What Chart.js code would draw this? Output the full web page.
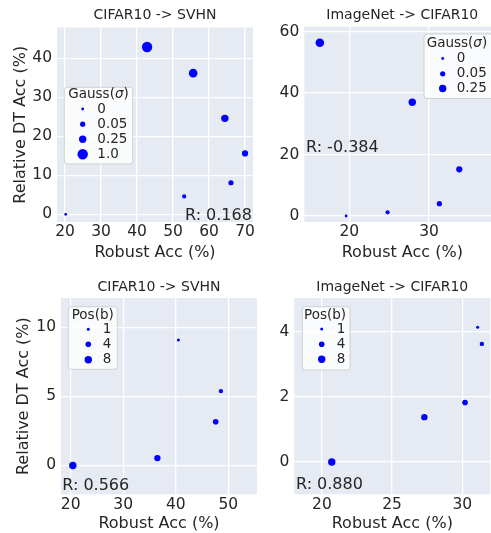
<!DOCTYPE html>
<html>
<head>
<meta charset="utf-8">
<script src="https://cdn.jsdelivr.net/npm/chart.js@4.4.1/dist/chart.umd.min.js"></script>
<style>
  html, body { margin: 0; padding: 0; background: #fff; }
  #wrap { position: relative; width: 491px; height: 533px; overflow: hidden; }
  #wrap canvas { position: absolute; left: 0; top: 0; }
</style>
</head>
<body>
<div id="wrap">
  <canvas id="c1" width="505" height="533"></canvas>
  <canvas id="c2" width="505" height="533"></canvas>
  <canvas id="c3" width="505" height="533"></canvas>
  <canvas id="c4" width="505" height="533"></canvas>
</div>
<script>
// ---- data ----
// Gauss(sigma), CIFAR10 -> SVHN
const gaussSvhnRobust = [20.2, 53.1, 66.1, 70.0, 64.4, 55.6, 42.8];
const gaussSvhnDT = [0.0, 4.6, 8.1, 15.6, 24.6, 36.2, 42.9];
const gaussSvhnSigma = [0, 0.01, 0.05, 0.1, 0.25, 0.5, 1.0];
const gaussSvhnXTicks = [20, 30, 40, 50, 60, 70];
const gaussSvhnYTicks = [0, 10, 20, 30, 40];
const gaussSvhnLegend = ["0", "0.05", "0.25", "1.0"];

// Gauss(sigma), ImageNet -> CIFAR10
const gaussCifarRobust = [19.6, 24.8, 31.3, 33.8, 27.9, 16.3];
const gaussCifarDT = [0.0, 1.2, 4.0, 15.2, 37.0, 56.4];
const gaussCifarSigma = [0, 0.01, 0.05, 0.1, 0.25, 0.5];
const gaussCifarXTicks = [20, 30];
const gaussCifarYTicks = [0, 20, 40, 60];
const gaussCifarLegend = ["0", "0.05", "0.25"];

// Pos(b), CIFAR10 -> SVHN
const posSvhnRobust = [40.5, 48.6, 47.6, 36.5, 20.4];
const posSvhnDT = [9.08, 5.38, 3.16, 0.53, 0.0];
const posSvhnB = [1, 2, 4, 6, 8];
const posSvhnXTicks = [20, 30, 40, 50];
const posSvhnYTicks = [0, 5, 10];

// Pos(b), ImageNet -> CIFAR10
const posCifarRobust = [31.1, 31.4, 30.2, 27.3, 20.7];
const posCifarDT = [4.14, 3.63, 1.83, 1.38, 0.0];
const posCifarB = [1, 2, 4, 6, 8];
const posCifarXTicks = [20, 25, 30];
const posCifarYTicks = [0, 2, 4];

const posLegend = ["1", "4", "8"];
const corr = ["R: 0.168", "R: -0.384", "R: 0.566", "R: 0.880"];

// ---- style ----
const FONT = "DejaVu Sans";
const TEXT = "#262626";
const BG = "#e5eaf3";
const W = 505, H = 533;
const sigmaRadius = { 0: 1.4, 0.01: 2.1, 0.05: 2.6, 0.1: 3.1, 0.25: 3.7, 0.5: 4.3, 1: 5.2 };
const posRadius = { 1: 1.5, 2: 2.2, 4: 2.8, 6: 3.2, 8: 3.7 };

const bgPlugin = {
  id: "bg",
  beforeDraw(chart) {
    const { ctx, chartArea: a } = chart;
    ctx.save();
    ctx.fillStyle = BG;
    ctx.fillRect(a.left, a.top, a.right - a.left, a.bottom - a.top);
    ctx.restore();
  }
};

const notePlugin = {
  id: "notes",
  afterDraw(chart) {
    const p = chart.options.plugins.notes;
    const ctx = chart.ctx;
    ctx.save();
    // correlation text
    ctx.fillStyle = TEXT;
    ctx.font = `16px "${FONT}"`;
    ctx.textBaseline = "middle";
    ctx.textAlign = "left";
    ctx.fillText(p.rText, p.rPos[0], p.rPos[1]);

    // legend
    const L = p.legend;
    ctx.fillStyle = "rgba(255,255,255,0.8)";
    ctx.strokeStyle = "rgba(204,204,204,0.9)";
    ctx.lineWidth = 1;
    ctx.beginPath();
    ctx.roundRect(L.box[0], L.box[1], L.box[2], L.box[3], 3);
    ctx.fill();
    ctx.stroke();

    ctx.fillStyle = TEXT;
    let tx = L.title[0];
    for (const [txt, italic] of L.titleParts) {
      ctx.font = `${italic ? "oblique " : ""}13.5px "${FONT}"`;
      ctx.fillText(txt, tx, L.title[1]);
      tx += ctx.measureText(txt).width;
    }
    ctx.font = `13.5px "${FONT}"`;
    L.items.forEach((label, i) => {
      const y = L.rows[i];
      ctx.fillStyle = "#0000ff";
      ctx.beginPath();
      ctx.arc(L.dotX, y, L.radius[Number(label)], 0, Math.PI * 2);
      ctx.fill();
      ctx.fillStyle = TEXT;
      ctx.fillText(label, L.textX, y);
    });
    ctx.restore();
  }
};

function makePanel(id, xs, ys, sizes, radius, cfg) {
  const a = cfg.area;
  const tickFont = { family: FONT, size: 15.5 };
  const labelFont = { family: FONT, size: 16 };
  const titleLH = 14 * 1.2;
  const yLeft = cfg.yTitleX != null ? cfg.yTitleX - 16 * 1.2 / 2 : a.l - 45;
  const xBottom = cfg.xTitleY + 16 * 1.2 / 2;

  new Chart(document.getElementById(id), {
    type: "scatter",
    data: {
      datasets: [{
        data: xs.map((x, i) => ({ x, y: ys[i] })),
        backgroundColor: "#0000ff",
        borderWidth: 0,
        pointRadius: sizes.map(s => radius[s]),
        pointHoverRadius: sizes.map(s => radius[s])
      }]
    },
    options: {
      responsive: false,
      animation: false,
      events: [],
      layout: { padding: { left: yLeft, right: W - a.r, top: 0, bottom: H - xBottom } },
      scales: {
        x: {
          type: "linear",
          min: cfg.x[0], max: cfg.x[1],
          afterBuildTicks: s => { s.ticks = cfg.xTicks.map(v => ({ value: v })); },
          afterFit: s => { s.height = xBottom - a.b; s.paddingLeft = 0; s.paddingRight = 0; },
          grid: { color: "#ffffff", lineWidth: 1.3, drawTicks: false },
          border: { display: false },
          ticks: { font: tickFont, color: TEXT, padding: 1, maxRotation: 0 },
          title: { display: true, text: "Robust Acc (%)", font: labelFont, color: TEXT, padding: 0 }
        },
        y: {
          type: "linear",
          min: cfg.y[0], max: cfg.y[1],
          afterBuildTicks: s => { s.ticks = cfg.yTicks.map(v => ({ value: v })); },
          afterFit: s => { s.width = a.l - yLeft; s.paddingTop = 0; s.paddingBottom = 0; },
          grid: { color: "#ffffff", lineWidth: 1.3, drawTicks: false },
          border: { display: false },
          ticks: { font: tickFont, color: TEXT, padding: 5 },
          title: { display: cfg.yTitleX != null, text: "Relative DT Acc (%)", font: labelFont, color: TEXT, padding: 0 }
        }
      },
      plugins: {
        legend: { display: false },
        tooltip: { enabled: false },
        title: {
          display: true,
          text: cfg.title,
          fullSize: false,
          color: TEXT,
          font: { family: FONT, size: 14, weight: "normal" },
          padding: { top: cfg.titleY - titleLH / 2, bottom: a.t - cfg.titleY - titleLH / 2 }
        },
        notes: { rText: cfg.rText, rPos: cfg.rPos, legend: cfg.legend }
      }
    },
    plugins: [bgPlugin, notePlugin]
  });
}

const gaussTitle = [["Gauss(", false], ["σ", true], [")", false]];
const posTitle = [["Pos(b)", false]];

makePanel("c1", gaussSvhnRobust, gaussSvhnDT, gaussSvhnSigma, sigmaRadius, {
  title: "CIFAR10 -> SVHN",
  area: { l: 57, t: 27.5, r: 253, b: 222 },
  yTitleX: 20.5, xTitleY: 253, titleY: 15,
  x: [17.78, 72.22], y: [-1.97, 47.9],
  xTicks: gaussSvhnXTicks, yTicks: gaussSvhnYTicks,
  rText: corr[0], rPos: [185, 216],
  legend: { box: [64.3, 87.3, 68.4, 76.7], title: [68.3, 94.5], titleParts: gaussTitle,
            dotX: 82.7, textX: 97.3, rows: [109, 124.2, 139.2, 154.2],
            items: gaussSvhnLegend, radius: sigmaRadius }
});

makePanel("c2", gaussCifarRobust, gaussCifarDT, gaussCifarSigma, sigmaRadius, {
  title: "ImageNet -> CIFAR10",
  area: { l: 304.3, t: 26.7, r: 500.3, b: 222 },
  yTitleX: null, xTitleY: 252.5, titleY: 15.5,
  x: [14.35, 38.95], y: [-1.95, 61.6],
  xTicks: gaussCifarXTicks, yTicks: gaussCifarYTicks,
  rText: corr[1], rPos: [306, 147.7],
  legend: { box: [424, 34, 73, 64.5], title: [426.7, 43], titleParts: gaussTitle,
            dotX: 442.7, textX: 456.7, rows: [58.5, 73.8, 88.5],
            items: gaussCifarLegend, radius: sigmaRadius }
});

makePanel("c3", posSvhnRobust, posSvhnDT, posSvhnB, posRadius, {
  title: "CIFAR10 -> SVHN",
  area: { l: 61, t: 298, r: 257, b: 494.3 },
  yTitleX: 23.5, xTitleY: 524, titleY: 287.7,
  x: [18.15, 55.47], y: [-2.09, 12.12],
  xTicks: posSvhnXTicks, yTicks: posSvhnYTicks,
  rText: corr[2], rPos: [62.3, 486],
  legend: { box: [68.3, 306.7, 49, 62.6], title: [71.7, 315], titleParts: posTitle,
            dotX: 88.3, textX: 102.7, rows: [329.3, 344.3, 359.8],
            items: posLegend, radius: posRadius }
});

makePanel("c4", posCifarRobust, posCifarDT, posCifarB, posRadius, {
  title: "ImageNet -> CIFAR10",
  area: { l: 294.3, t: 298, r: 490.3, b: 494.3 },
  yTitleX: null, xTitleY: 524, titleY: 287.7,
  x: [18.03, 32.0], y: [-0.99, 5.04],
  xTicks: posCifarXTicks, yTicks: posCifarYTicks,
  rText: corr[3], rPos: [296, 485],
  legend: { box: [302.3, 306.7, 47.7, 63.3], title: [304, 315], titleParts: posTitle,
            dotX: 321.7, textX: 336.7, rows: [329, 344.3, 359.3],
            items: posLegend, radius: posRadius }
});
</script>
</body>
</html>
